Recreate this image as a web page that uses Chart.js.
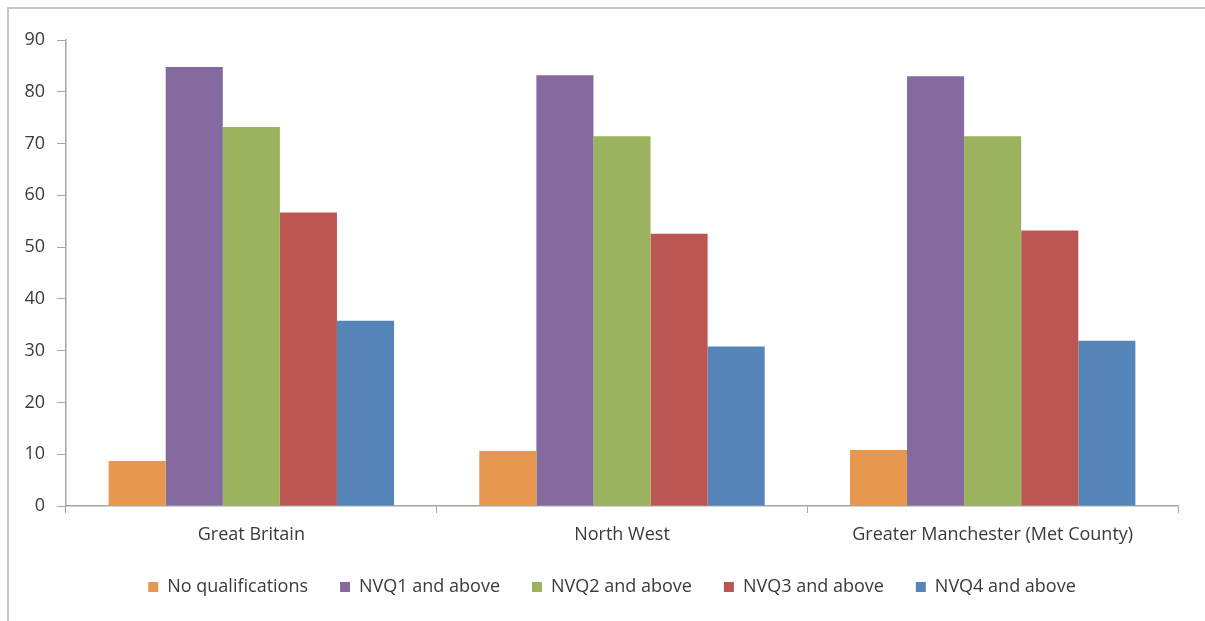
<!DOCTYPE html>
<html>
<head>
<meta charset="utf-8">
<title>Qualifications by area</title>
<script src="https://cdn.jsdelivr.net/npm/chart.js@4/dist/chart.umd.min.js"></script>
<style>
  html, body { margin: 0; padding: 0; background: #fff; }
  #wrap { position: relative; width: 1205px; height: 621px; overflow: hidden; }
  #frame { position: absolute; left: 7px; top: 7px; right: -10px; bottom: -10px;
           border-top: 2px solid #c6c6c6; border-left: 2px solid #c6c6c6; }
  canvas { position: absolute; left: 0; top: 0; }
</style>
</head>
<body>
<div id="wrap">
  <div id="frame"></div>
  <canvas id="qualChart" width="1205" height="621"></canvas>
</div>
<script>
const areas = ['Great Britain', 'North West', 'Greater Manchester (Met County)'];

const noQualifications = [8.7, 10.6, 10.8];
const nvq1AndAbove = [84.8, 83.2, 83.0];
const nvq2AndAbove = [73.2, 71.4, 71.4];
const nvq3AndAbove = [56.7, 52.6, 53.2];
const nvq4AndAbove = [35.8, 30.8, 31.9];

const yTicks = [0, 10, 20, 30, 40, 50, 60, 70, 80, 90];

const series = [
  { label: 'No qualifications', data: noQualifications, color: '#e5984e' },
  { label: 'NVQ1 and above', data: nvq1AndAbove, color: '#846a9f' },
  { label: 'NVQ2 and above', data: nvq2AndAbove, color: '#9bb35e' },
  { label: 'NVQ3 and above', data: nvq3AndAbove, color: '#bc5652' },
  { label: 'NVQ4 and above', data: nvq4AndAbove, color: '#5585b8' }
];

const axisColor = '#a6a6a6';
const textColor = '#3a3a3a';
const fontFamily = '"Open Sans", "Noto Sans", sans-serif';
const fontSize = 18;

// the legend is centred on the whole frame rather than on the plot
const legendShift = {
  id: 'legendShift',
  afterLayout(chart) {
    const lg = chart.legend;
    if (lg) { lg.left += 23; lg.right += 23; }
  }
};

const ctx = document.getElementById('qualChart').getContext('2d');
new Chart(ctx, {
  type: 'bar',
  data: {
    labels: areas,
    datasets: series.map(s => ({
      label: s.label,
      data: s.data,
      backgroundColor: s.color,
      borderWidth: 0,
      categoryPercentage: 0.77,
      barPercentage: 1
    }))
  },
  options: {
    responsive: false,
    animation: false,
    layout: {
      padding: { top: 40, right: 27, left: 0, bottom: 15 }
    },
    scales: {
      x: {
        offset: true,
        grid: {
          offset: true,
          drawOnChartArea: false,
          color: axisColor,
          tickLength: 7
        },
        border: { color: axisColor, width: 1.5 },
        ticks: {
          color: textColor,
          padding: 11,
          font: { family: fontFamily, size: fontSize }
        },
        afterFit: scale => { scale.height = 40; }
      },
      y: {
        min: 0,
        max: 90,
        afterBuildTicks: scale => { scale.ticks = yTicks.map(v => ({ value: v })); },
        grid: {
          drawOnChartArea: false,
          color: axisColor,
          tickLength: 9
        },
        border: { color: axisColor, width: 1.5 },
        ticks: {
          color: textColor,
          padding: 12,
          font: { family: fontFamily, size: fontSize }
        },
        afterFit: scale => { scale.width = 66; }
      }
    },
    plugins: {
      legend: {
        position: 'bottom',
        labels: {
          boxWidth: 10,
          boxHeight: 10,
          padding: 32,
          color: textColor,
          font: { family: fontFamily, size: fontSize }
        }
      },
      tooltip: { enabled: false }
    }
  },
  plugins: [legendShift]
});
</script>
</body>
</html>
